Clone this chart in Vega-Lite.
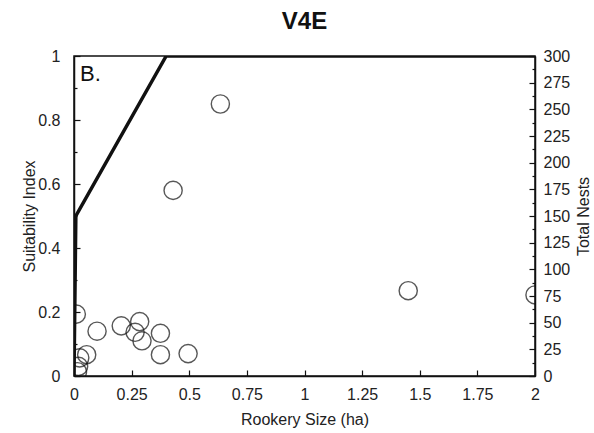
{
  "$schema": "https://vega.github.io/schema/vega-lite/v6.json",
  "width": 461,
  "height": 320,
  "autosize": "none",
  "padding": {"left": 74, "top": 56, "right": 59, "bottom": 57},
  "background": "white",
  "title": {"text": "V4E", "fontSize": 24, "font": "Liberation Sans", "fontWeight": "bold", "color": "#111", "offset": 14, "anchor": "middle", "frame": "group"},
  "config": {
    "view": {"stroke": "#111", "strokeWidth": 1.5},
    "axis": {"labelFont": "Liberation Sans", "titleFont": "Liberation Sans", "labelFontSize": 16, "titleFontSize": 16, "titleFontWeight": "normal", "labelColor": "#222", "titleColor": "#222", "domainColor": "#111", "domainWidth": 1.5, "tickColor": "#111", "tickWidth": 1.2, "grid": false}
  },
  "datasets": {
    "si": [
      {"size": 0, "si": 0},
      {"size": 0.008, "si": 0.5},
      {"size": 0.4, "si": 1},
      {"size": 2, "si": 1}
    ],
    "nests": [
      {"size": 0.01, "nests": 58},
      {"size": 0.10, "nests": 42},
      {"size": 0.205, "nests": 47},
      {"size": 0.285, "nests": 51},
      {"size": 0.265, "nests": 41},
      {"size": 0.295, "nests": 33},
      {"size": 0.375, "nests": 40},
      {"size": 0.375, "nests": 20},
      {"size": 0.495, "nests": 21},
      {"size": 0.055, "nests": 20},
      {"size": 0.025, "nests": 17},
      {"size": 0.02, "nests": 9},
      {"size": 0.015, "nests": 4},
      {"size": 0.43, "nests": 174},
      {"size": 0.635, "nests": 255},
      {"size": 1.45, "nests": 80},
      {"size": 2.0, "nests": 76}
    ]
  },
  "layer": [
    {
      "data": {"name": "si"},
      "mark": {"type": "line", "color": "#111", "strokeWidth": 3.5, "clip": true},
      "encoding": {
        "x": {"field": "size", "type": "quantitative", "scale": {"domain": [0, 2], "nice": false},
          "axis": {"title": "Rookery Size (ha)", "values": [0,0.125,0.25,0.375,0.5,0.625,0.75,0.875,1,1.125,1.25,1.375,1.5,1.625,1.75,1.875,2],
            "labelExpr": "datum.value % 0.25 === 0 ? format(datum.value, '~g') : ''", "tickSize": {"condition": {"test": "datum.value % 0.25 === 0", "value": -6}, "value": -3}, "labelPadding": 16, "titlePadding": 9, "labelFlush": false}},
        "y": {"field": "si", "type": "quantitative", "scale": {"domain": [0, 1], "nice": false},
          "axis": {"title": "Suitability Index", "values": [0,0.1,0.2,0.3,0.4,0.5,0.6,0.7,0.8,0.9,1],
            "labelExpr": "(round(datum.value*10) % 2 === 0) ? format(datum.value, '~g') : ''", "tickSize": {"condition": {"test": "round(datum.value*10) % 2 === 0", "value": -6}, "value": -3}, "labelPadding": 20, "titlePadding": 0, "labelFlush": false}}
      }
    },
    {
      "data": {"name": "nests"},
      "mark": {"type": "point", "shape": "circle", "filled": false, "stroke": "#111", "strokeWidth": 1.4, "size": 330, "clip": true},
      "encoding": {
        "x": {"field": "size", "type": "quantitative", "scale": {"domain": [0, 2], "nice": false}},
        "y": {"field": "nests", "type": "quantitative", "scale": {"domain": [0, 300], "nice": false},
          "axis": {"orient": "right", "title": "Total Nests", "titleAngle": -90, "values": [0,12.5,25,37.5,50,62.5,75,87.5,100,112.5,125,137.5,150,162.5,175,187.5,200,212.5,225,237.5,250,262.5,275,287.5,300],
            "labelExpr": "datum.value % 25 === 0 ? format(datum.value, '~g') : ''", "tickSize": {"condition": {"test": "datum.value % 25 === 0", "value": -6}, "value": -3}, "labelPadding": 14, "titlePadding": 22, "labelFlush": false}}
      }
    },
    {
      "data": {"values": [{"panel": "B."}]},
      "mark": {"type": "text", "font": "Liberation Sans", "fontSize": 22, "color": "#111", "align": "left", "baseline": "middle"},
      "encoding": {
        "text": {"field": "panel"},
        "x": {"datum": 0.026, "type": "quantitative"},
        "y": {"datum": 0.944, "type": "quantitative", "scale": {"domain": [0, 1], "nice": false}, "axis": null}
      }
    }
  ],
  "resolve": {"scale": {"y": "independent"}, "axis": {"y": "independent"}}
}
